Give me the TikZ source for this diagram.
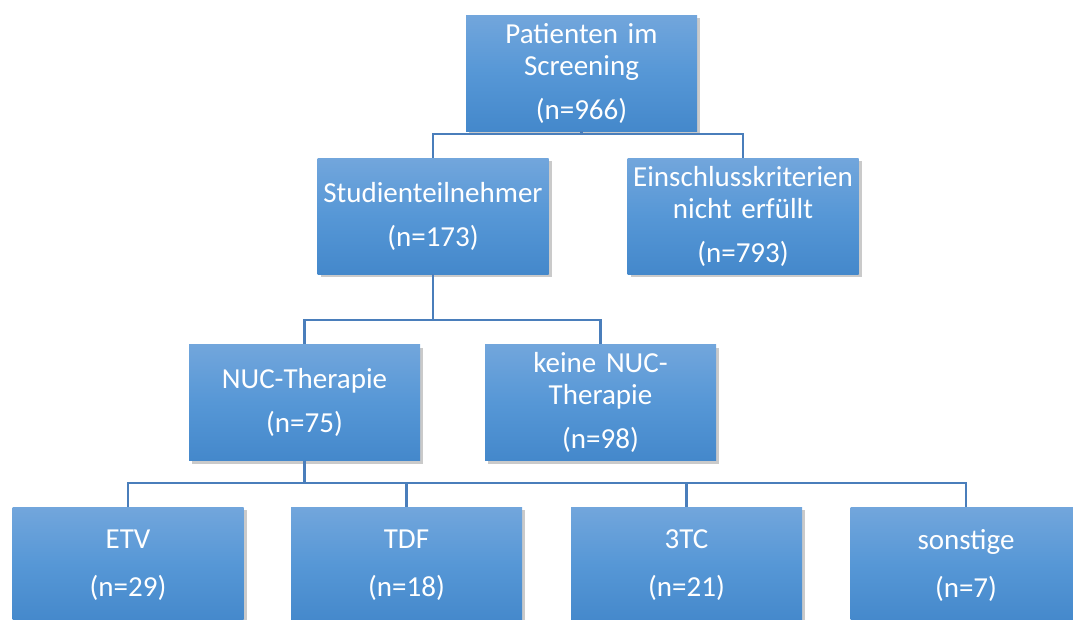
\documentclass[tikz,border=0pt]{standalone}
\usepackage{fontspec}
\setmainfont{Carlito}
\usetikzlibrary{shadows}
\definecolor{boxtop}{RGB}{114,166,220}
\definecolor{boxmid}{RGB}{86,151,214}
\definecolor{boxbot}{RGB}{68,136,203}
\definecolor{linkblue}{RGB}{74,126,187}
\tikzset{
  box/.style={rectangle, minimum width=231pt, minimum height=116pt, inner sep=2pt,
    text width=227pt, align=center, text=white,
    top color=boxtop, bottom color=boxbot, middle color=boxmid,
    drop shadow={shadow xshift=3pt, shadow yshift=-3pt, opacity=0.35, fill=black!60},
    font=\fontsize{29}{32}\selectfont},
  conn/.style={draw=linkblue, line width=2.2pt}
}
\begin{document}
\begin{tikzpicture}[x=1pt,y=-1pt]
	\useasboundingbox (0,0) rectangle (1073,619);
	% Ebene 1 und 2
	\node[box] (screen) at (581.5,73) {Patienten im\\Screening\\[12pt](n=966)};
	\node[box] (teiln) at (433,216) {Studienteilnehmer\\[12pt](n=173)};
	\node[box] (ausschl) at (743,216) {Einschlusskriterien\\nicht erfüllt\\[12pt](n=793)};
	% Ebene 3
	\node[box] (nuc) at (304.5,402.5) {NUC-Therapie\\[12pt](n=75)};
	\node[box] (keinenuc) at (600.5,402.5) {keine NUC-\\Therapie\\[12pt](n=98)};
	% Ebene 4
	\node[box] (etv) at (128,565) {ETV\\[16pt](n=29)};
	\node[box] (tdf) at (406.5,565) {TDF\\[16pt](n=18)};
	\node[box] (ltc) at (686.5,565) {3TC\\[16pt](n=21)};
	\node[box] (sonst) at (966,565) {sonstige\\[16pt](n=7)};
	% Verbindungen
	\draw[conn] (screen.south) -- ++(0,3) -| (teiln.north);
	\draw[conn] (screen.south) -- ++(0,3) -| (ausschl.north);
	\draw[conn] (teiln.south) -- ++(0,46) -| (nuc.north);
	\draw[conn] (teiln.south) -- ++(0,46) -| (keinenuc.north);
	\draw[conn] (nuc.south) -- ++(0,22) -| (etv.north);
	\draw[conn] (nuc.south) -- ++(0,22) -| (tdf.north);
	\draw[conn] (nuc.south) -- ++(0,22) -| (ltc.north);
	\draw[conn] (nuc.south) -- ++(0,22) -| (sonst.north);
\end{tikzpicture}
\end{document}
